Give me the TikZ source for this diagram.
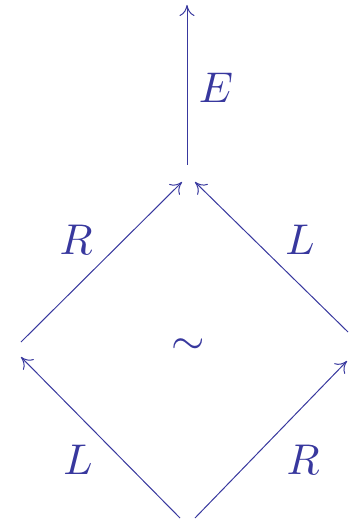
\documentclass[tikz,border=0pt]{standalone}
\usetikzlibrary{arrows.meta}
\definecolor{ink}{rgb}{0.22,0.22,0.62}
\begin{document}
\begin{tikzpicture}[x=1pt,y=-1pt,
  arr/.style={draw=ink,line width=1pt,-{Computer Modern Rightarrow[length=11pt,width=15pt]}},
  lab/.style={text=ink,inner sep=0pt,scale=4.3,transform shape}]
\useasboundingbox (0,0) rectangle (348,521);
\coordinate (topS) at (187,165);
\coordinate (topE) at (187,5);
\coordinate (tl) at (182,182);
\coordinate (tr) at (195,182);
\coordinate (ls) at (21,342);
\coordinate (le) at (21,357);
\coordinate (rs) at (348,332);
\coordinate (re) at (347,361);
\coordinate (bl) at (180,518);
\coordinate (br) at (195,518);
\draw[arr] (topS) -- (topE);
\draw[arr] (ls) -- (tl);
\draw[arr] (rs) -- (tr);
\draw[arr] (bl) -- (le);
\draw[arr] (br) -- (re);
\node[lab] (E) at (216,88) {$E$};
\node[lab] (R1) at (76,240) {$R$};
\node[lab] (L1) at (300,240) {$L$};
\node[lab] (L2) at (78,460) {$L$};
\node[lab] (R2) at (303,460) {$R$};
\node[lab] (sim) at (188,347) {$\sim$};
\end{tikzpicture}
\end{document}
